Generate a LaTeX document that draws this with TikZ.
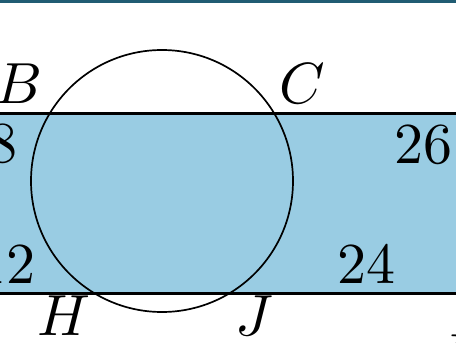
\documentclass[tikz,border=0pt]{standalone}
\usepackage{graphicx}
\usepackage{tikz}
\definecolor{bandblue}{RGB}{153,204,227}
\definecolor{topteal}{RGB}{32,92,115}
\newcommand{\lblmath}[1]{\scalebox{5.8}{$#1$}}
\begin{document}
\begin{tikzpicture}[x=1pt,y=-1pt,
  lbl/.style={inner sep=0pt},
  edge/.style={line width=3pt,black},
  circ/.style={line width=1.7pt,black}]
\useasboundingbox (0,0) rectangle (456,343);
\clip (0,0) rectangle (456,343);
\fill[topteal] (0,0) rectangle (456,3);
\fill[bandblue] (0,113) rectangle (456,293);
\coordinate (tl) at (0,113);
\coordinate (tr) at (456,113);
\coordinate (bl) at (0,293);
\coordinate (br) at (456,293);
\coordinate (O) at (162,181);
\draw[circ] (O) circle[radius=131];
\draw[edge] (tl) -- (tr);
\draw[edge] (bl) -- (br);
\node[lbl,anchor=base] (B) at (19,103) {\lblmath{B}};
\node[lbl,anchor=base] (C) at (302,103) {\lblmath{C}};
\node[lbl,anchor=base east] (n8) at (18,162) {\lblmath{8}};
\node[lbl,anchor=base] (n26) at (423,163) {\lblmath{26}};
\node[lbl,anchor=base east] (n12) at (36,283) {\lblmath{12}};
\node[lbl,anchor=base] (n24) at (366,283) {\lblmath{24}};
\node[lbl,anchor=base] (H) at (64,335) {\lblmath{H}};
\node[lbl,anchor=base] (J) at (254,335) {\lblmath{J}};
\node[lbl,anchor=base west] (I) at (440,374) {\lblmath{I}};
\end{tikzpicture}
\end{document}
